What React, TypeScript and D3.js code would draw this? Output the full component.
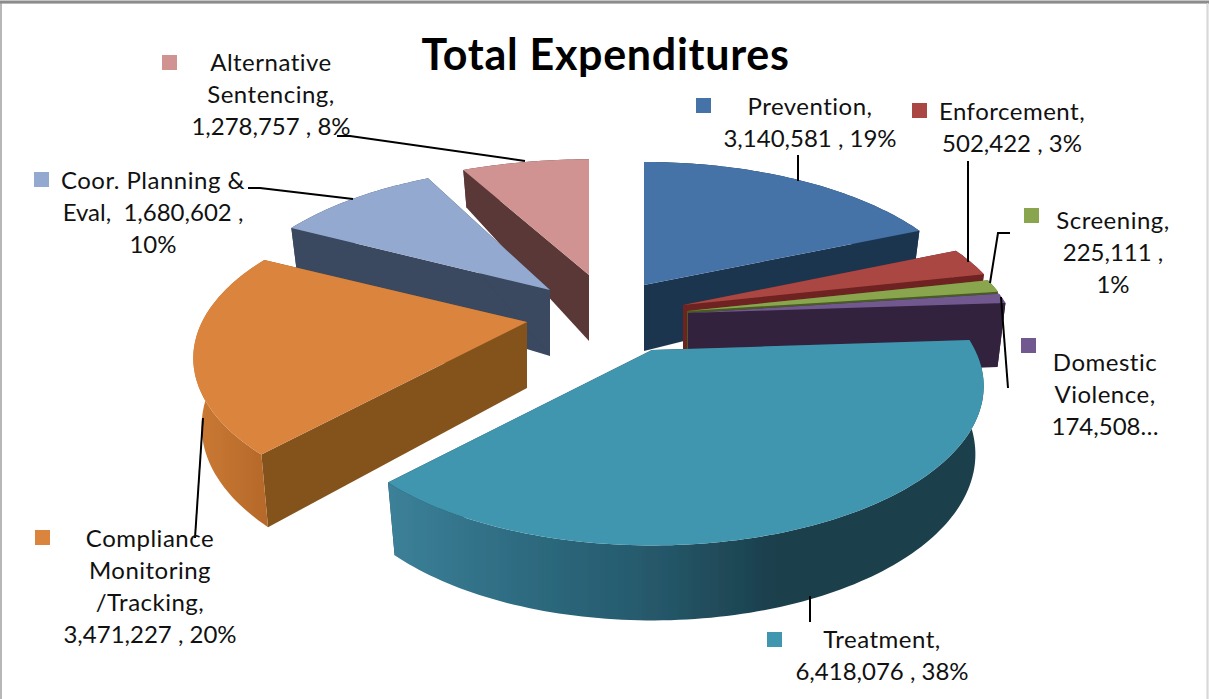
import React from "react";
import * as d3 from "d3";

const WIDTH = 1209;
const HEIGHT = 699;

const categories = ["Prevention", "Enforcement", "Screening", "Domestic Violence", "Treatment", "Compliance Monitoring /Tracking", "Coor. Planning & Eval", "Alternative Sentencing"];
const values = [3140581, 502422, 225111, 174508, 6418076, 3471227, 1680602, 1278757];
const topColors = ["#4572a7", "#aa4643", "#89a54e", "#71588f", "#4096af", "#db843d", "#93a9cf", "#d19392"];
const wallColors = ["#1c3650", "#6e2320", "#4a5c22", "#33213d", "#1c3f4c", "#84531f", "#3a4860", "#5a3838"];
const labelLines = [
  ["Prevention,", "3,140,581 , 19%"],
  ["Enforcement,", "502,422 , 3%"],
  ["Screening,", "225,111 ,", "1%"],
  ["Domestic", "Violence,", "174,508…"],
  ["Treatment,", "6,418,076 , 38%"],
  ["Compliance", "Monitoring", "/Tracking,", "3,471,227 , 20%"],
  ["Coor. Planning &", "Eval,  1,680,602 ,", "10%"],
  ["Alternative", "Sentencing,", "1,278,757 , 8%"],
];

// Layout of each exploded slice: apex, horizontal radius and vertical squash
const sliceCx = [644, 683, 687, 688, 652, 527, 550, 589];
const sliceCy = [285, 305, 311, 313, 350, 322, 290, 275];
const sliceRx = [326, 323, 323, 323, 323, 325, 320, 330];
const sliceTilt = [151, 151, 151, 151, 151, 151, 151, 142];
// Label anchors
const labelX = [810, 1012, 1113, 1105, 882, 150, 153, 271];
const labelY = [106, 111, 220, 362, 639, 538, 180, 62];
const markerX = [696, 912, 1024, 1021, 767, 35, 34, 162];
const markerY = [98, 103, 208, 338, 632, 530, 172, 55];
const leaders: [number, number][][] = [
  [[798, 155], [798, 181]],
  [[968, 161], [968, 262]],
  [[1010, 233], [998, 233], [990, 283]],
  [[1001, 297], [1008, 388]],
  [[810, 596], [810, 622]],
  [[203, 418], [195, 538]],
  [[248, 188], [260, 188], [353, 199]],
  [[337, 136], [350, 136], [525, 161]],
];
const drawOrder = [7, 6, 0, 1, 2, 3, 5, 4];

const FOCAL = 4.4;
const thickness = d3.scaleLinear().domain([-1, 0, 1]).range([34, 66, 75]);

const arcs = d3.pie<number>().sort(null)(values);
const line = d3.line();

function top(i: number, a: number): [number, number] {
  const z = -Math.cos(a);
  const s = FOCAL / (FOCAL - z);
  return [sliceCx[i] + sliceRx[i] * Math.sin(a) * s, sliceCy[i] + sliceTilt[i] * z * s];
}
function bottom(i: number, a: number): [number, number] {
  const [x, y] = top(i, a);
  return [sliceCx[i] + (x - sliceCx[i]) * 0.975, y + thickness(-Math.cos(a))];
}
function samples(a0: number, a1: number): number[] {
  const n = Math.max(4, Math.ceil((a1 - a0) / 0.02));
  return d3.range(n + 1).map((k) => a0 + ((a1 - a0) * k) / n);
}

function Slice({ i }: { i: number }) {
  const { startAngle: a0, endAngle: a1 } = arcs[i];
  const apex: [number, number] = [sliceCx[i], sliceCy[i]];
  const apexB: [number, number] = [sliceCx[i], sliceCy[i] + thickness(0)];
  const rim = samples(a0, a1);
  const face = [apex, ...rim.map((a) => top(i, a))];
  const outer = [...rim.map((a) => top(i, a)), ...rim.slice().reverse().map((a) => bottom(i, a))];
  const quad = (a: number) => [apex, top(i, a), bottom(i, a), apexB] as [number, number][];
  const outerFill = i === 4 ? "url(#wallTreatment)" : i === 5 ? "url(#wallCompliance)" : wallColors[i];
  return (
    <g>
      <path d={line(quad(a0)) + "Z"} fill={wallColors[i]} />
      <path d={line(quad(a1)) + "Z"} fill={wallColors[i]} />
      <path d={line(outer) + "Z"} fill={outerFill} />
      <path d={line(face) + "Z"} fill={topColors[i]} />
    </g>
  );
}

export default function App() {
  return (
    <svg width={WIDTH} height={HEIGHT} style={{ position: "absolute", left: 0, top: 0, display: "block", background: "#fff" }}
      fontFamily="Lato, sans-serif">
      <defs>
        <linearGradient id="wallTreatment" x1="0" x2="1" y1="0" y2="0">
          <stop offset="0" stopColor="#3c8199" />
          <stop offset="0.2" stopColor="#2f6d83" />
          <stop offset="0.45" stopColor="#25586a" />
          <stop offset="0.65" stopColor="#1c3f4c" />
          <stop offset="1" stopColor="#1c3f4c" />
        </linearGradient>
        <linearGradient id="wallCompliance" x1="0" x2="1" y1="0" y2="0">
          <stop offset="0" stopColor="#cc7a33" />
          <stop offset="1" stopColor="#b4682a" />
        </linearGradient>
        <filter id="soft" x="-5%" y="-5%" width="110%" height="110%">
          <feGaussianBlur stdDeviation="0.5" />
        </filter>
      </defs>
      <rect x={1} y={2.5} width={1206.5} height={700} fill="none" stroke="#a0a0a0" strokeWidth={1.5} />
      <line x1={0} x2={WIDTH} y1={2} y2={2} stroke="#8c8c8c" strokeWidth={3} />
      <line x1={1207.5} x2={1207.5} y1={3} y2={HEIGHT} stroke="#d8d8d8" strokeWidth={1} />
      <g filter="url(#soft)">
        {drawOrder.map((i) => <Slice key={categories[i]} i={i} />)}
      </g>
      {leaders.map((pts, i) => (
        <path key={i} d={line(pts) ?? ""} fill="none" stroke="#000" strokeWidth={2} />
      ))}
      <text x={605.5} y={70} textAnchor="middle" fontSize={43} fontWeight={700} fill="#000" letterSpacing={0.7}>Total Expenditures</text>
      {labelLines.map((lines, i) => (
        <g key={i}>
          <rect x={markerX[i]} y={markerY[i]} width={15} height={15} fill={topColors[i]} />
          {lines.map((t, j) => (
            <text key={j} x={labelX[i]} y={labelY[i] + j * 32.2} dy="0.36em" textAnchor="middle" fontSize={24} fill="#111"
              letterSpacing={/\d/.test(t) ? 0 : 0.5} style={{ whiteSpace: "pre" }}>{t}</text>
          ))}
        </g>
      ))}
    </svg>
  );
}
